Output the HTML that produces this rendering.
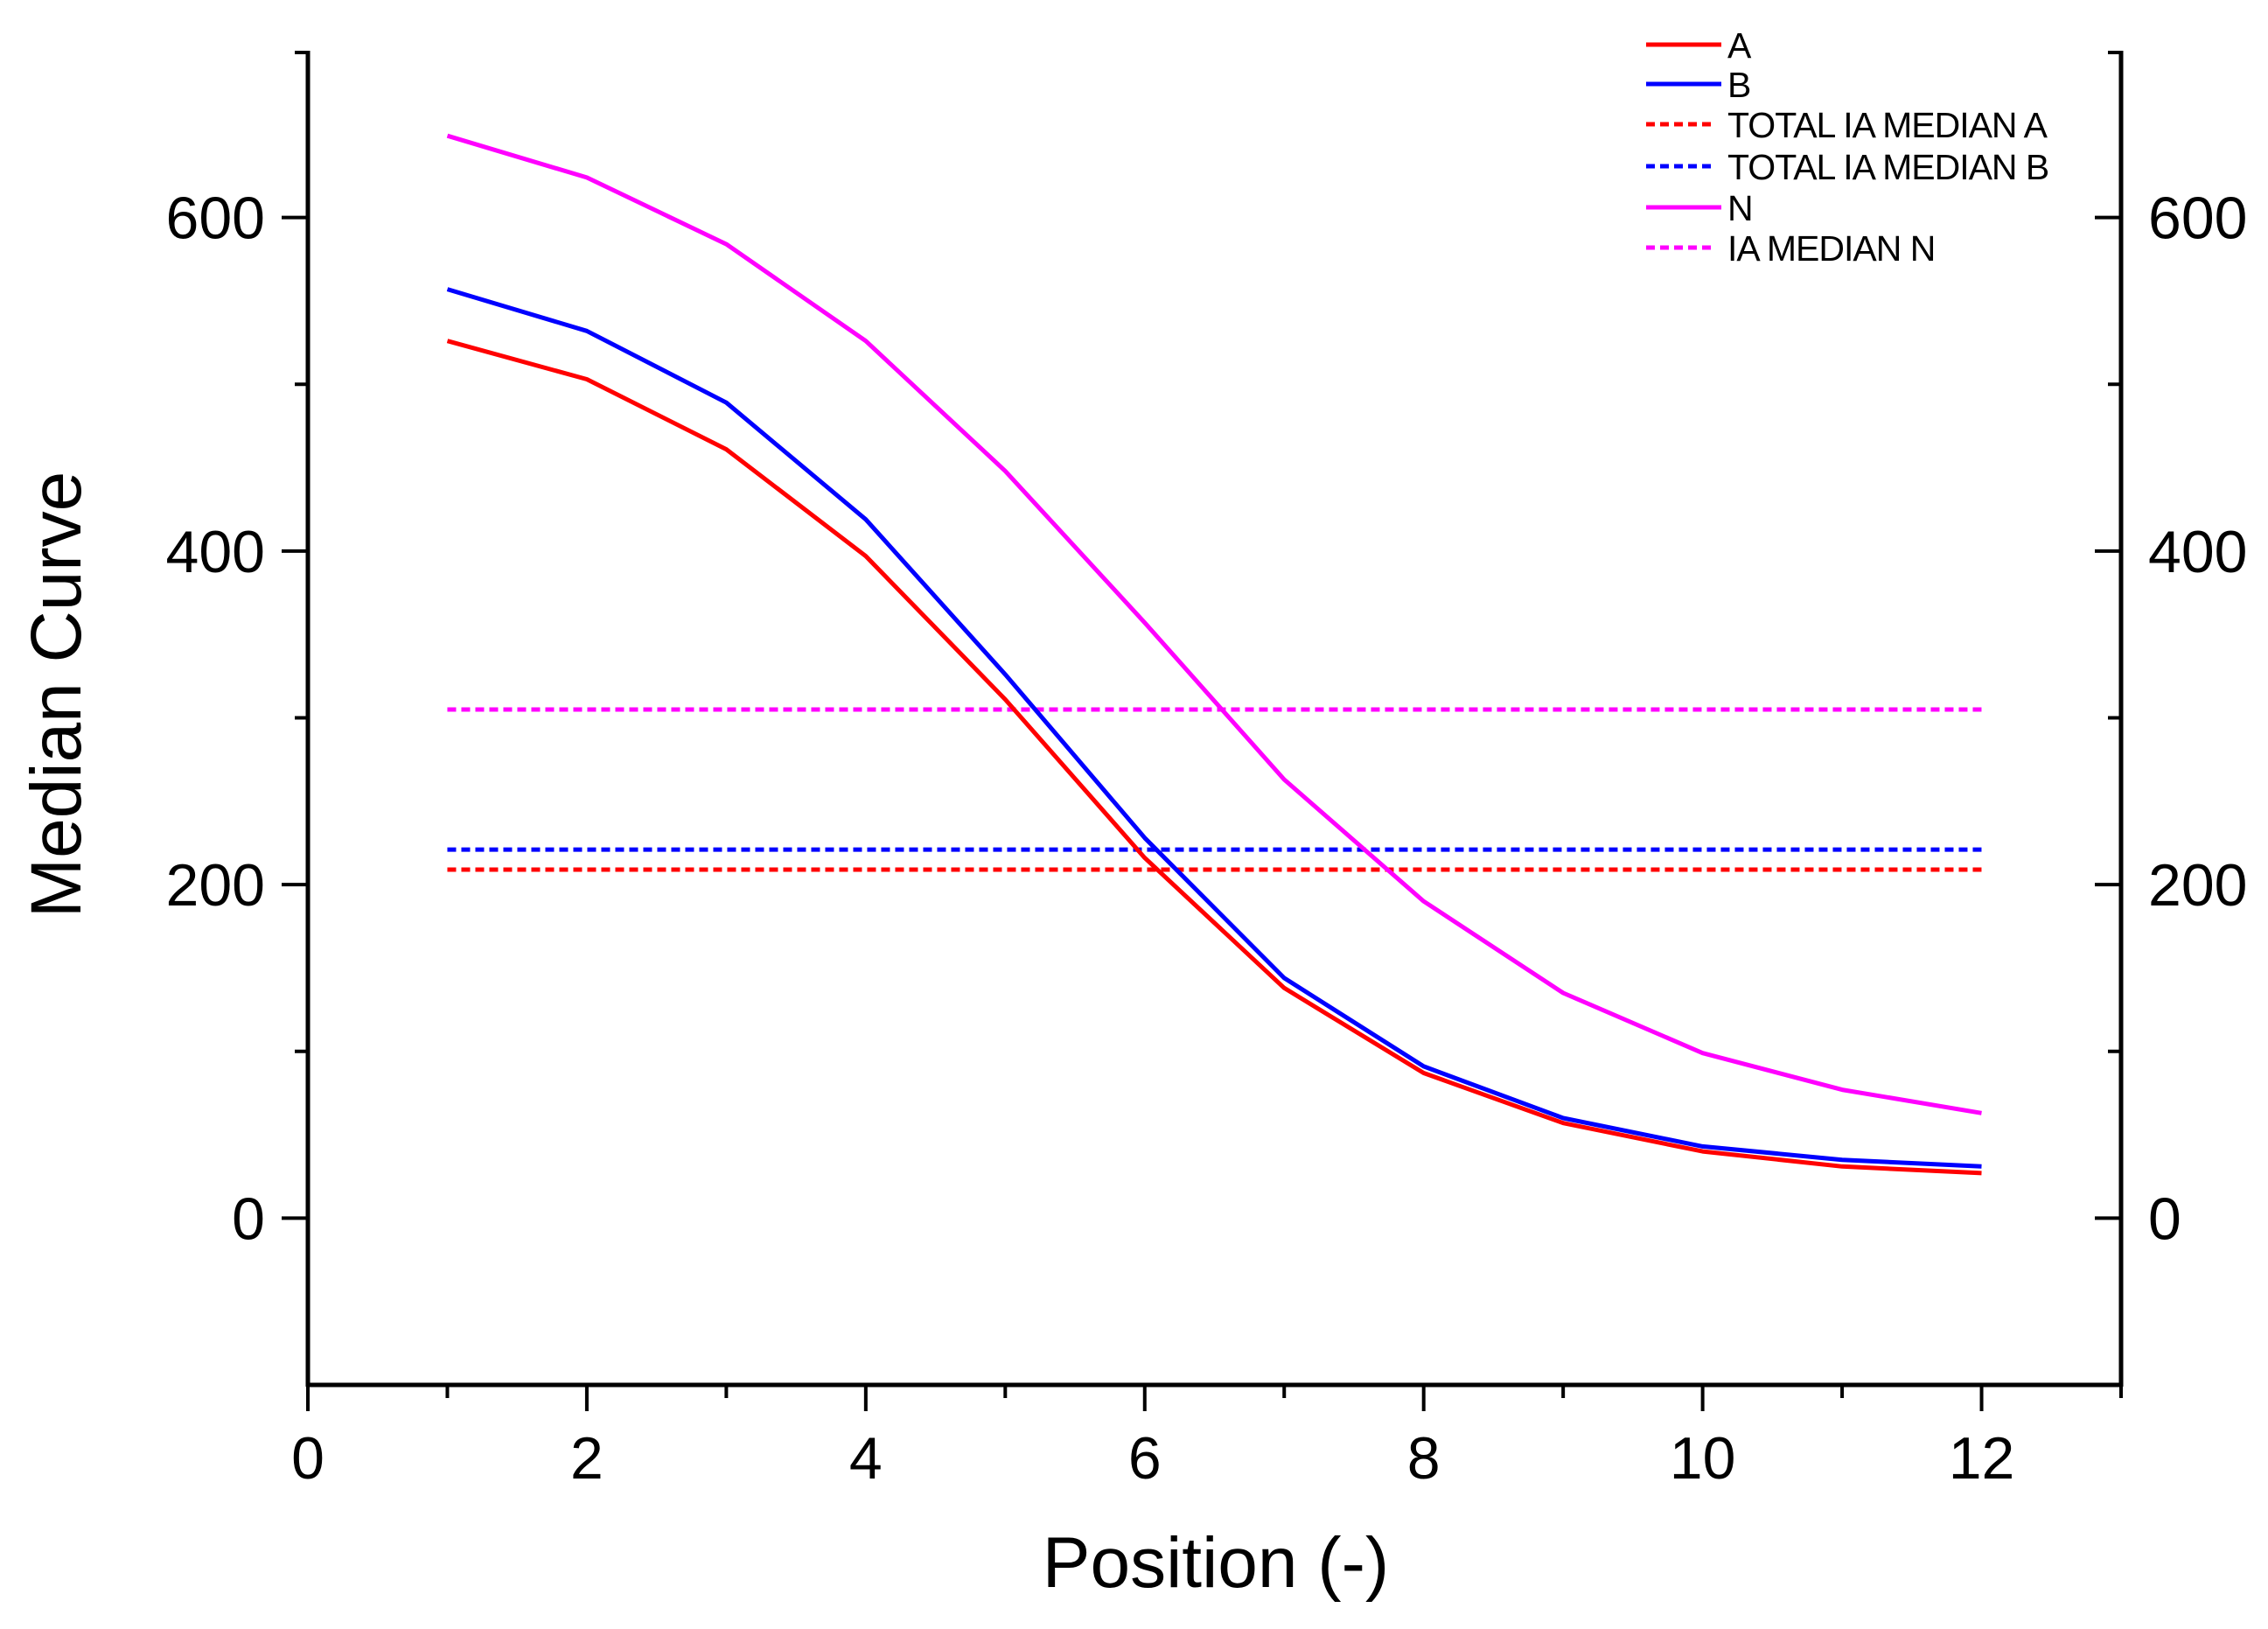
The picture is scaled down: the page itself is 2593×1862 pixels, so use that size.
<!DOCTYPE html>
<html><head><meta charset="utf-8"><style>
html,body{margin:0;padding:0;background:#fff}
svg{display:block}
text{font-family:"Liberation Sans",Arial,sans-serif;fill:#000}
</style></head><body>
<svg id="chart" width="2593" height="1862" viewBox="0 0 2593 1862" xmlns="http://www.w3.org/2000/svg">
<g id="axes"></g><g id="series"></g><g id="legend"></g>
</svg>
<script>
const positions=[1,2,3,4,5,6,7,8,9,10,11,12];
const seriesA=[526,503,461,397,311,216,138,87,57,40,31,27];
const seriesB=[557,532,489,419,326,228,144,91,60,43,35,31];
const seriesN=[649,624,584,526,448,357,263,190,135,99,77,63];
const medianA=209;
const medianB=221;
const medianN=305;
const xTicks=[0,2,4,6,8,10,12];
const yTicks=[0,200,400,600];
const legendLabels=["A","B","TOTAL IA  MEDIAN A","TOTAL IA  MEDIAN B","N","IA MEDIAN N"];

const L=352,R=2425,T=58,B=1583,xMin=0,xMax=13,yMin=-100,yMax=700;
const xs=v=>L+(v-xMin)/(xMax-xMin)*(R-L);
const ys=v=>B-(v-yMin)/(yMax-yMin)*(B-T);
const NS="http://www.w3.org/2000/svg";
function mk(tag,attrs,parent){const e=document.createElementNS(NS,tag);for(const k in attrs)e.setAttribute(k,attrs[k]);parent.appendChild(e);return e;}
const axes=document.getElementById('axes'),ser=document.getElementById('series'),leg=document.getElementById('legend');
let e;
e=mk('line',{x1:L,y1:T,x2:L,y2:B+2,stroke:'#000','stroke-width':5},axes);


e=mk('line',{x1:R,y1:T,x2:R,y2:B+2,stroke:'#000','stroke-width':5},axes);


e=mk('line',{x1:L-2,y1:B,x2:R+2,y2:B,stroke:'#000','stroke-width':5},axes);


for(let v=yMin+100;v<yMax;v+=100){
  const major=(v%200===0);const len=major?30:15;
  mk('line',{x1:L-len,y1:ys(v),x2:L,y2:ys(v),stroke:'#000','stroke-width':4},axes);
  mk('line',{x1:R-len,y1:ys(v),x2:R,y2:ys(v),stroke:'#000','stroke-width':4},axes);
}
mk('line',{x1:L-15,y1:T+2,x2:L,y2:T+2,stroke:'#000','stroke-width':4},axes);
mk('line',{x1:R-15,y1:T+2,x2:R,y2:T+2,stroke:'#000','stroke-width':4},axes);
yTicks.forEach(v=>{
  e=mk('text',{x:303,y:ys(v)+24,'text-anchor':'end','font-size':68},axes);e.textContent=v;
  
  
  e=mk('text',{x:2456,y:ys(v)+24,'text-anchor':'start','font-size':68},axes);e.textContent=v;
  
  
});
for(let v=0;v<=13;v++){
  const len=(v%2===0)?30:15;
  mk('line',{x1:xs(v),y1:B,x2:xs(v),y2:B+len,stroke:'#000','stroke-width':4},axes);
}
xTicks.forEach(v=>{
  e=mk('text',{x:xs(v),y:1690,'text-anchor':'middle','font-size':68},axes);e.textContent=v;
  
  
});
e=mk('text',{x:1390,y:1814,'text-anchor':'middle','font-size':82},axes);e.textContent='Position (-)';


e=mk('text',{x:92,y:794,'text-anchor':'middle','font-size':82,transform:'rotate(-90 92 794)'},axes);e.textContent='Median Curve';



function line(vals,color,name){
  const d=vals.map((v,i)=>(i?'L':'M')+xs(positions[i]).toFixed(1)+' '+ys(v).toFixed(1)).join(' ');
  const p=mk('path',{d:d,fill:'none',stroke:color,'stroke-width':5,'stroke-linejoin':'round'},ser);
  
  
}
function hline(v,color,name){
  const p=mk('line',{x1:xs(positions[0]),x2:xs(positions[positions.length-1]),y1:ys(v),y2:ys(v),stroke:color,'stroke-width':5,'stroke-dasharray':'10 6'},ser);
  
  
}
hline(medianN,'#ff00ff','median-n-line');
hline(medianB,'#0000ff','median-b-line');
hline(medianA,'#ff0000','median-a-line');
line(seriesN,'#ff00ff','series-n-line');
line(seriesB,'#0000ff','series-b-line');
line(seriesA,'#ff0000','series-a-line');

const legColors=['#ff0000','#0000ff','#ff0000','#0000ff','#ff00ff','#ff00ff'];
const legDash=[false,false,true,true,false,true];
const legY=[51,96,142,190,237,283];
legendLabels.forEach((lab,i)=>{
  const g=mk('g',{},leg);
  
  
  const a={x1:1882,x2:legDash[i]?1960:1968,y1:legY[i],y2:legY[i],stroke:legColors[i],'stroke-width':5};
  if(legDash[i])a['stroke-dasharray']='10 6';
  mk('line',a,g);
  const t=mk('text',{x:1975,y:legY[i]+15,'font-size':41,'letter-spacing':'-1'},g);t.textContent=lab;
});
</script>
</body></html>
